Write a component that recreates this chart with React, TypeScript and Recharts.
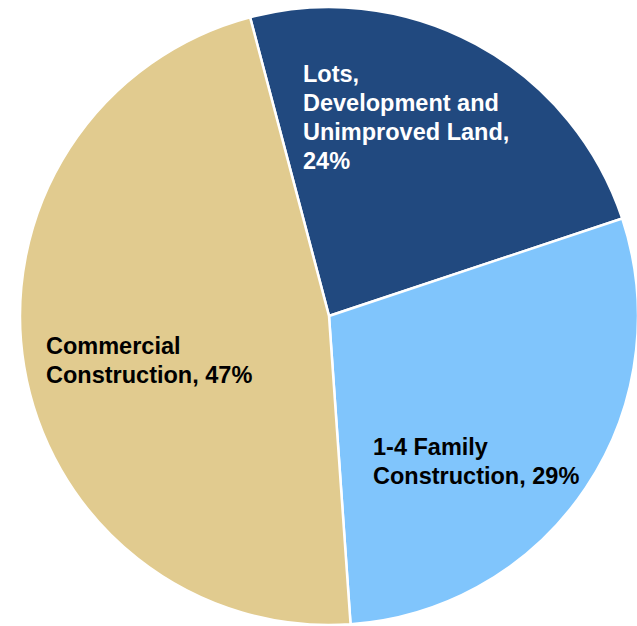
import React from 'react';
import { PieChart, Pie, Cell } from 'recharts';

const categories = ['Lots, Development and Unimproved Land', '1-4 Family Construction', 'Commercial Construction'];
const values = [24, 29, 47];
const labelLines = [
  ['Lots,', 'Development and', 'Unimproved Land,', '24%'],
  ['1-4 Family', 'Construction, 29%'],
  ['Commercial', 'Construction, 47%'],
];

const colors = ['#21497f', '#80c5fc', '#e1cb8f'];
const textColors = ['#ffffff', '#000000', '#000000'];
// label offsets relative to pie center (left x, first baseline y)
const labelOffsets = [
  [-26, -234],
  [44, 139],
  [-283, 38],
];

const data = categories.map((name, i) => ({ name, value: values[i] }));

const renderLabel = (props: any) => {
  const { cx, cy, index } = props;
  const [dx, dy] = labelOffsets[index];
  return (
    <text
      x={cx + dx}
      y={cy + dy}
      fill={textColors[index]}
      fontFamily="'Liberation Sans', Arial, sans-serif"
      fontWeight="bold"
      fontSize={23.5}
      textAnchor="start"
    >
      {labelLines[index].map((line, j) => (
        <tspan key={j} x={cx + dx} dy={j === 0 ? 0 : 29}>
          {line}
        </tspan>
      ))}
    </text>
  );
};

export default function App() {
  return (
    <div style={{ position: 'absolute', left: 0, top: 0, width: 637, height: 626, background: '#fff' }}>
      <PieChart width={637} height={626} margin={{ top: 0, right: 0, bottom: 0, left: 0 }}>
        <Pie
          data={data}
          dataKey="value"
          nameKey="name"
          cx={329}
          cy={316}
          outerRadius={309}
          innerRadius={0}
          startAngle={104.8}
          endAngle={-255.2}
          stroke="#ffffff"
          strokeWidth={2.5}
          label={renderLabel}
          labelLine={false}
          isAnimationActive={false}
        >
          {data.map((d, i) => (
            <Cell key={d.name} fill={colors[i]} />
          ))}
        </Pie>
      </PieChart>
    </div>
  );
}
